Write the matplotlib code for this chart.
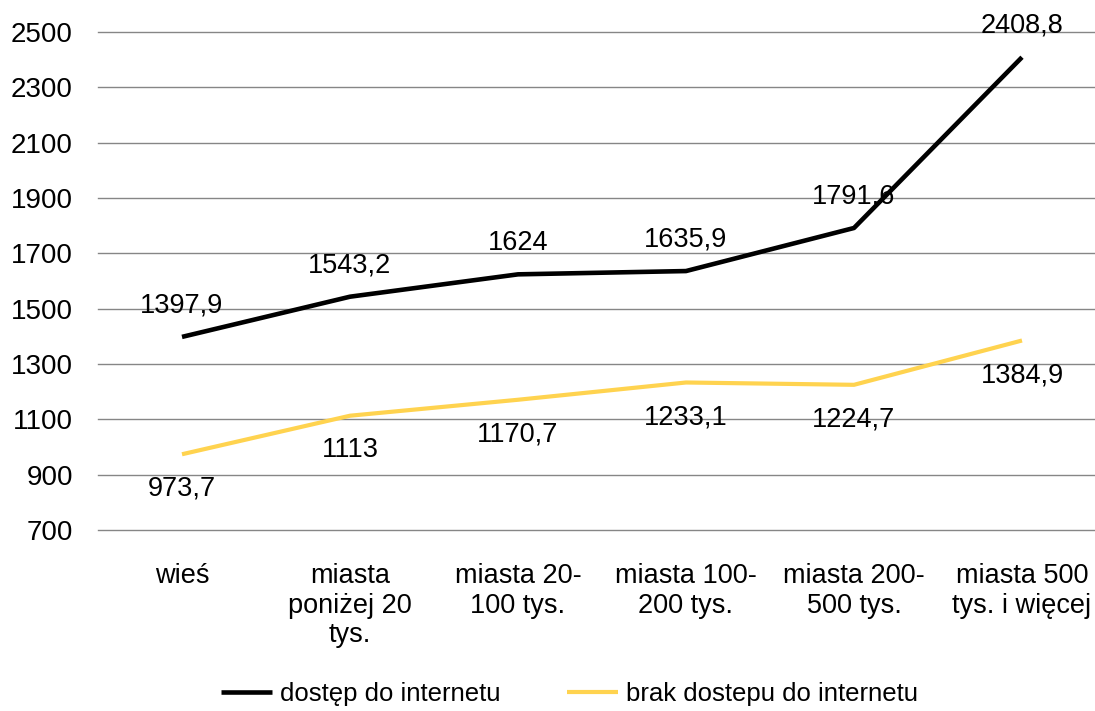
import matplotlib
matplotlib.use("Agg")
import matplotlib.pyplot as plt

plt.rcParams['font.family'] = ['Liberation Sans', 'DejaVu Sans']

categories = ["wieś", "miasta\nponiżej 20\ntys.", "miasta 20-\n100 tys.",
              "miasta 100-\n200 tys.", "miasta 200-\n500 tys.", "miasta 500\ntys. i więcej"]
dostep = [1397.9, 1543.2, 1624.0, 1635.9, 1791.6, 2408.8]
brak = [973.7, 1113.0, 1170.7, 1233.1, 1224.7, 1384.9]
dostep_labels = ["1397,9", "1543,2", "1624", "1635,9", "1791,6", "2408,8"]
brak_labels = ["973,7", "1113", "1170,7", "1233,1", "1224,7", "1384,9"]
yticks = [700, 900, 1100, 1300, 1500, 1700, 1900, 2100, 2300, 2500]

fig = plt.figure(figsize=(10.95, 7.11), dpi=100)
ax = fig.add_axes([98/1095, 0.2546, 1008/1095, 0.7004])

x = list(range(len(categories)))
ax.plot(x, dostep, color='black', lw=3.3, solid_capstyle='butt', label='dostęp do internetu', zorder=3)
ax.plot(x, brak, color='#FFD34F', lw=3.0, solid_capstyle='butt', label='brak dostepu do internetu', zorder=3)

for xi, v, t in zip(x, dostep, dostep_labels):
    ax.annotate(t, (xi, v), xytext=(0, 22.5), textcoords='offset points',
                ha='center', va='center', fontsize=19.5, color='black')
for xi, v, t in zip(x, brak, brak_labels):
    ax.annotate(t, (xi, v), xytext=(0, -25), textcoords='offset points',
                ha='center', va='center', fontsize=19.5, color='black')

ax.set_xlim(-0.5, len(categories) - 0.5)
ax.set_ylim(700, 2500)
ax.set_yticks(yticks)
ax.set_yticklabels([str(v) for v in yticks], fontsize=20)
ax.set_xticks(x)
ax.set_xticklabels(categories, fontsize=19.5, linespacing=1.16)
ax.tick_params(axis='y', length=0, pad=18)
ax.tick_params(axis='x', length=0, pad=24)
ax.grid(axis='y', color='#868686', lw=1.0)
for gl in ax.get_ygridlines():
    gl.set_clip_on(False)
ax.set_axisbelow(True)
for s in ax.spines.values():
    s.set_visible(False)

fig.legend(loc='center', bbox_to_anchor=(0.52, 0.024), ncol=2, frameon=False,
           fontsize=18.5, handlelength=2.0, handletextpad=0.3, columnspacing=2.6,
           borderpad=0.1)

fig.savefig('out.png', dpi=100)
